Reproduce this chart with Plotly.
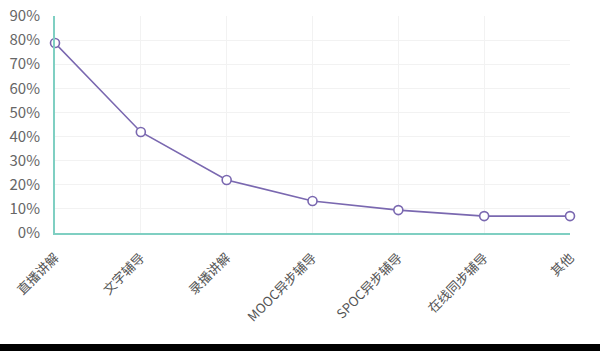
import plotly.graph_objects as go

categories = ["直播讲解", "文字辅导", "录播讲解", "MOOC异步辅导", "SPOC异步辅导", "在线同步辅导", "其他"]
values = [78.8, 41.9, 22.0, 13.3, 9.5, 7.0, 7.0]
y_ticks = [0, 10, 20, 30, 40, 50, 60, 70, 80, 90]
y_tick_labels = [f"{v}%" for v in y_ticks]

fig = go.Figure()
fig.add_trace(go.Scatter(
    x=categories, y=values, mode="lines+markers",
    line=dict(color="#7a68b0", width=1.6),
    marker=dict(symbol="circle", size=9, color="white",
                line=dict(color="#7a68b0", width=1.6)),
    cliponaxis=False,
))

fig.update_layout(
    width=600, height=351,
    margin=dict(l=55, r=30, t=16, b=118),
    paper_bgcolor="white", plot_bgcolor="white",
    showlegend=False,
    font=dict(family="Noto Sans CJK SC, Microsoft YaHei, sans-serif", color="#666666"),
    xaxis=dict(
        range=[0, len(categories) - 1], automargin=False,
        tickangle=-45, tickfont=dict(size=13, color="#555555"),
        showgrid=True, gridcolor="#f2f2f2", gridwidth=1,
        showline=True, linecolor="#7fcfc2", linewidth=2,
        ticks="", zeroline=False, ticklabelstandoff=10,
    ),
    yaxis=dict(
        range=[0, 90], tickvals=y_ticks, ticktext=y_tick_labels, automargin=False,
        tickfont=dict(size=15, color="#666666"),
        showgrid=True, gridcolor="#f2f2f2", gridwidth=1,
        showline=True, linecolor="#7fcfc2", linewidth=2,
        ticks="", zeroline=False, ticklabelstandoff=10,
    ),
    shapes=[
        dict(type="rect", xref="paper", yref="paper",
             x0=-0.2, x1=1.2, y0=-140/217, y1=-111/217,
             fillcolor="black", line=dict(width=0), layer="above"),
    ],
)

fig.write_html("out.html")
